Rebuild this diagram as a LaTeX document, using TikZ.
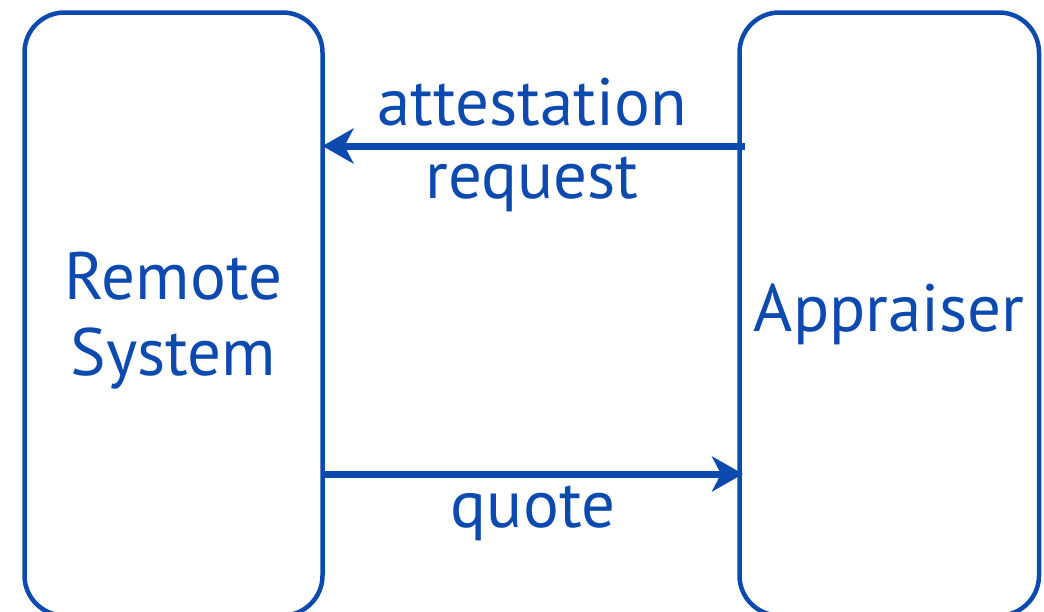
\documentclass[tikz,border=0pt]{standalone}
\usepackage{fontspec}
\setmainfont{PT Sans}
\usetikzlibrary{arrows.meta}
\definecolor{ink}{RGB}{12,74,176}
\begin{document}
\begin{tikzpicture}[x=1pt,y=-1pt,
  party/.style={draw=ink, line width=4.5pt, rounded corners=40pt,
    text=ink, align=center, inner sep=0pt, outer sep=0pt,
    font=\fontsize{67}{72}\selectfont},
  flow/.style={draw=ink, line width=7pt,
    -{Stealth[length=31pt,width=35pt,inset=9pt]}},
  lbl/.style={text=ink, inner sep=0pt, anchor=base,
    font=\fontsize{67}{72}\selectfont}]
  \useasboundingbox (0,0) rectangle (1044,611);
  % the two parties
  \node[party, minimum width=298pt, minimum height=603pt] (rs) at (173.5,314)
    {\raisebox{-9pt}[\height][\depth]{\begin{tabular}{@{}c@{}}Remote\\[4pt]System\end{tabular}}};
  \node[party, minimum width=299.5pt, minimum height=603pt] (ap) at (889.25,314)
    {Appraiser};
  % attestation request: appraiser -> remote system
  \coordinate (reqTail) at ([xshift=5pt]ap.west |- 0,146);
  \draw[flow] (reqTail) -- (rs.east |- reqTail);
  \node[lbl] (reqA) at (532,125) {attestation};
  \node[lbl] (reqB) at (532,198) {request};
  % quote: remote system -> appraiser
  \coordinate (quoTail) at (rs.east |- 0,474);
  \coordinate (quoTip) at ([xshift=3.5pt]ap.west |- quoTail);
  \draw[flow] (quoTail) -- (quoTip);
  \node[lbl] (quo) at (533,527) {quote};
\end{tikzpicture}
\end{document}
